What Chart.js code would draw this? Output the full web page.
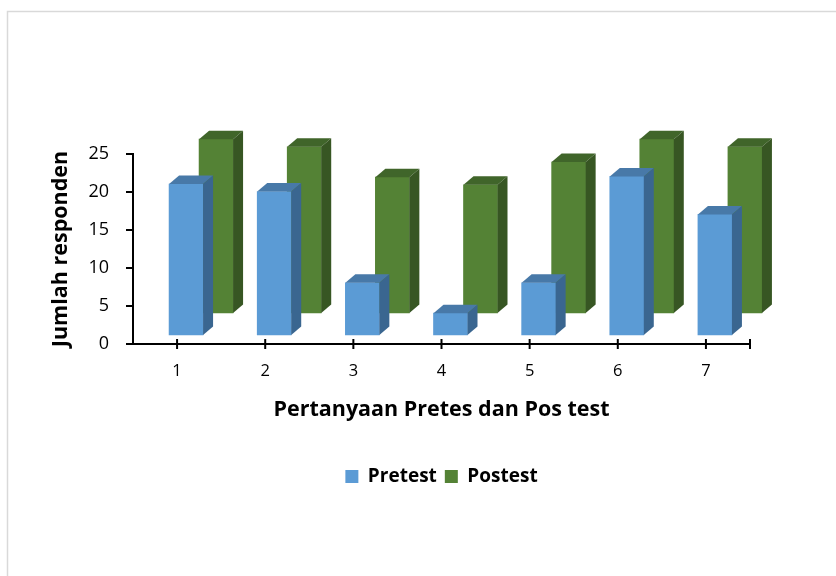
<!DOCTYPE html>
<html>
<head>
<meta charset="utf-8">
<title>Pretest vs Postest</title>
<script src="https://cdn.jsdelivr.net/npm/chart.js@4.4.0/dist/chart.umd.min.js"></script>
<style>
  body { margin: 0; background: #fff; }
  canvas { display: block; }
</style>
</head>
<body>
<canvas id="chart" width="836" height="576"></canvas>
<script>
// data
let questions = ["1", "2", "3", "4", "5", "6", "7"];
let pretest = [20, 19, 7, 3, 7, 21, 16];
let postest = [23, 22, 18, 17, 20, 23, 22];
let yMax = 25;
let yStep = 5;

let font = "'Open Sans', sans-serif";

// Excel-like fake 3D: each series sits at its own depth,
// top and side faces are drawn by hand from the bar elements
let depth = { dx: 10, dy: 8.5 };
let rowShift = [{ x: 9, y: -8 }, { x: 39, y: -30 }];
let faces = [
  { top: "#4879a8", side: "#3a6690" },
  { top: "#40652a", side: "#375623" }
];

const fake3d = {
  id: "fake3d",
  beforeDatasetDraw(chart, args) {
    let s = rowShift[args.index];
    chart.ctx.save();
    chart.ctx.translate(s.x, s.y);
  },
  afterDatasetDraw(chart, args) {
    let ctx = chart.ctx;
    let f = faces[args.index];
    args.meta.data.forEach(bar => {
      let p = bar.getProps(["x", "y", "base", "width"], true);
      let l = p.x - p.width / 2;
      let r = p.x + p.width / 2;
      // top face
      ctx.fillStyle = f.top;
      ctx.beginPath();
      ctx.moveTo(l, p.y);
      ctx.lineTo(l + depth.dx, p.y - depth.dy);
      ctx.lineTo(r + depth.dx, p.y - depth.dy);
      ctx.lineTo(r, p.y);
      ctx.closePath();
      ctx.fill();
      // side face
      ctx.fillStyle = f.side;
      ctx.beginPath();
      ctx.moveTo(r, p.y);
      ctx.lineTo(r + depth.dx, p.y - depth.dy);
      ctx.lineTo(r + depth.dx, p.base - depth.dy);
      ctx.lineTo(r, p.base);
      ctx.closePath();
      ctx.fill();
    });
    ctx.restore();
  }
};

// frame round the chart + crossing tick marks on the category axis
const frame = {
  id: "frame",
  beforeDraw(chart) {
    let ctx = chart.ctx;
    ctx.save();
    ctx.fillStyle = "#fff";
    ctx.fillRect(0, 0, chart.width, chart.height);
    ctx.strokeStyle = "#d9d9d9";
    ctx.lineWidth = 1.5;
    ctx.strokeRect(7.5, 11.5, chart.width + 20, chart.height + 20);
    ctx.restore();
  },
  afterDraw(chart) {
    let ctx = chart.ctx;
    let x = chart.scales.x;
    let yb = chart.chartArea.bottom;
    let marks = x.ticks.map((t, i) => x.getPixelForTick(i));
    marks.push(chart.chartArea.right);
    ctx.save();
    ctx.strokeStyle = "#000";
    ctx.lineWidth = 2;
    marks.forEach(px => {
      ctx.beginPath();
      ctx.moveTo(px, yb - 5);
      ctx.lineTo(px, yb + 5);
      ctx.stroke();
    });
    ctx.restore();
  }
};

new Chart(document.getElementById("chart").getContext("2d"), {
  type: "bar",
  data: {
    labels: questions,
    datasets: [
      { label: "Pretest", data: pretest, backgroundColor: "#5b9bd5", clip: false },
      { label: "Postest", data: postest, backgroundColor: "#548235", clip: false }
    ]
  },
  options: {
    responsive: false,
    animation: false,
    grouped: false,
    barThickness: 34,
    layout: { padding: { left: 40, right: 86, top: 154, bottom: 80 } },
    plugins: {
      tooltip: { enabled: false },
      legend: {
        position: "bottom",
        fullSize: false,
        labels: {
          boxWidth: 13,
          boxHeight: 13,
          padding: 8,
          color: "#000",
          font: { family: font, size: 19, weight: "bold" }
        }
      }
    },
    scales: {
      x: {
        offset: true,
        grid: { display: false, drawTicks: false },
        border: { display: true, color: "#000", width: 2 },
        ticks: { color: "#000", padding: 17, font: { family: font, size: 16.5 } },
        title: {
          display: true,
          text: "Pertanyaan Pretes dan Pos test",
          color: "#000",
          padding: { top: 0, bottom: 36 },
          font: { family: font, size: 21.5, weight: "bold" }
        },
        afterFit(scale) { scale.height = 115; }
      },
      y: {
        min: 0,
        max: yMax,
        grid: {
          drawOnChartArea: false,
          drawTicks: true,
          tickLength: 7,
          color: "#000",
          lineWidth: 2
        },
        border: { display: true, color: "#000", width: 2 },
        ticks: { stepSize: yStep, color: "#000", padding: 17, font: { family: font, size: 18 } },
        title: {
          display: true,
          text: "Jumlah responden",
          color: "#000",
          padding: { top: 8, bottom: 0 },
          font: { family: font, size: 21.5, weight: "bold" }
        },
        afterFit(scale) { scale.width = 93; }
      }
    }
  },
  plugins: [fake3d, frame]
});
</script>
</body>
</html>
